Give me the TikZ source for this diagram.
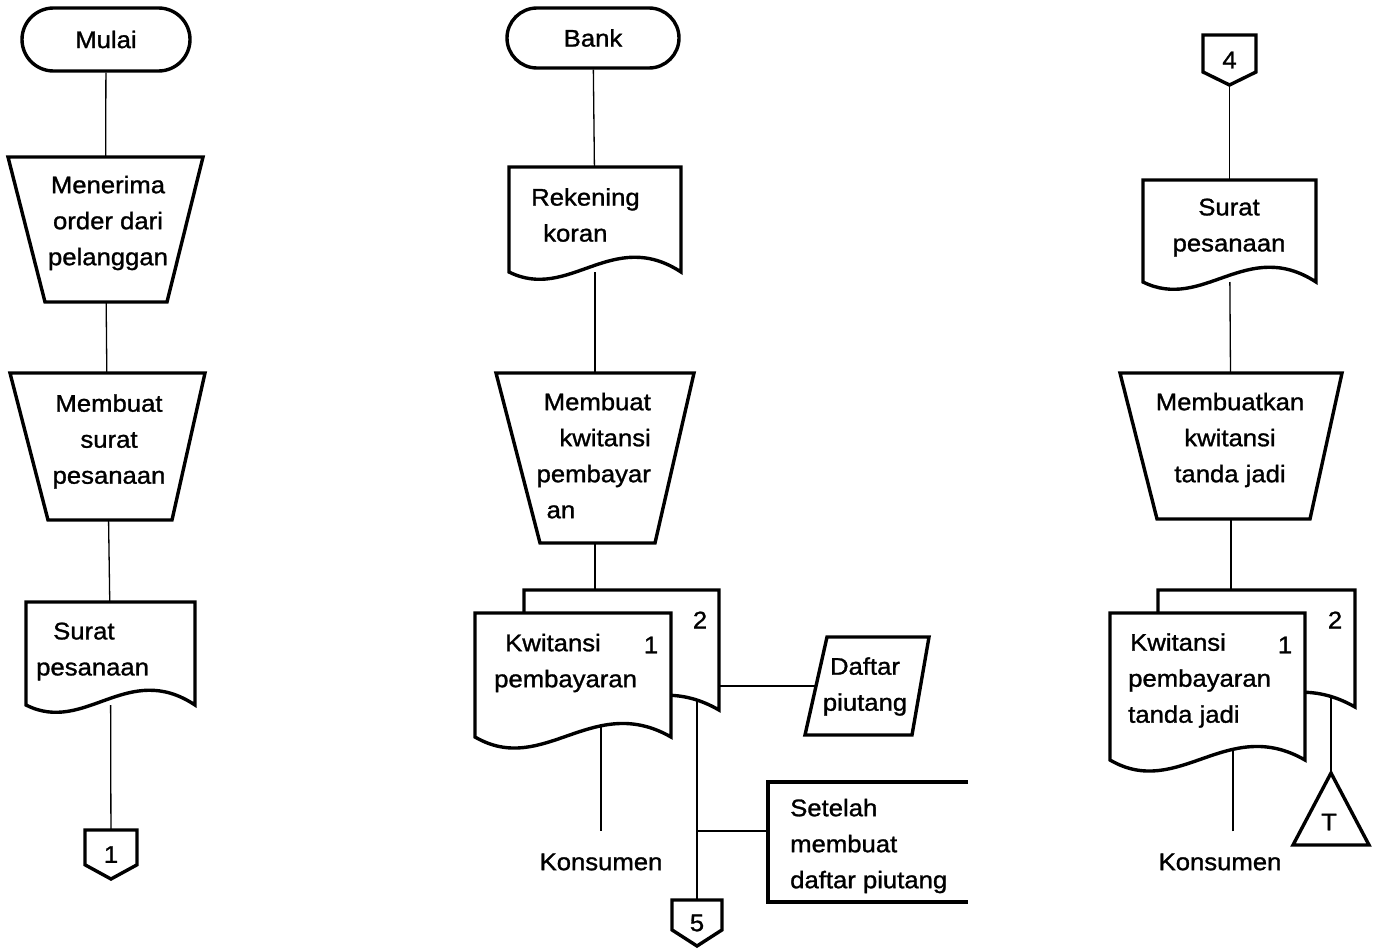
\documentclass[tikz,border=0pt]{standalone}
\usepackage{fontspec}
\setmainfont{Liberation Sans}[FakeStretch=1.07,FakeBold=1.2]
\usetikzlibrary{shapes.misc,calc}
\pgfdeclarelayer{background}
\pgfdeclarelayer{shapes}
\pgfsetlayers{background,shapes,main}

\tikzset{
  outline/.style={draw, line width=3.4pt, line join=miter, fill=white},
  link/.style={line width=1.3pt},
  box/.style={inner sep=0pt, outer sep=0pt},
  txt/.style={font=\fontsize{24}{36}\selectfont, inner sep=0pt},
  term/.style={rounded rectangle, outline, font=\fontsize{24}{36}\selectfont, inner sep=0pt},
}

% document symbol with a wavy lower edge: node, trough depth, crest height
\newcommand{\docoutline}[3]{%
  \begin{pgfonlayer}{shapes}
  \path[outline] let \p1=(#1.north west), \p2=(#1.south east), \n1={\x2-\x1} in
    (\p1) -- (\x1,\y2)
    .. controls ({\x1+0.35*\n1},{\y2-#2pt}) and ({\x1+0.6*\n1},{\y2+#3pt}) .. (\x2,\y2)
    -- (\x2,\y1) -- cycle;
  \end{pgfonlayer}}
% manual operation: node, left inset, right inset
\newcommand{\manop}[3]{%
  \begin{pgfonlayer}{shapes}
  \path[outline] (#1.north west) -- (#1.north east) -- ($(#1.south east)+(-#3,0)$)
    -- ($(#1.south west)+(#2,0)$) -- cycle;
  \end{pgfonlayer}}
% off-page connector: node, fraction of height where the point starts
\newcommand{\offpage}[2]{%
  \begin{pgfonlayer}{shapes}
  \path[outline] (#1.north west) -- (#1.north east) -- ($(#1.north east)!#2!(#1.south east)$)
    -- (#1.south) -- ($(#1.north west)!#2!(#1.south west)$) -- cycle;
  \end{pgfonlayer}}

\begin{document}
\begin{tikzpicture}[x=1pt,y=-1pt]
\useasboundingbox (0,0) rectangle (1380,950);

% ---------- left column ----------
\node[term, minimum width=168pt, minimum height=63pt] (mulai) at (106,39.5) {Mulai};

\node[box, minimum width=195pt, minimum height=145pt] (t1) at (105.5,229.5) {};
\manop{t1}{37}{36}
\node[txt, align=center] (t1x) at (108,223) {Menerima\\order dari\\pelanggan};

\node[box, minimum width=195pt, minimum height=147pt] (t2) at (107.5,446.5) {};
\manop{t2}{38}{33}
\node[txt, align=center] (t2x) at (109,441.5) {Membuat\\surat\\pesanaan};

\node[box, minimum width=169pt, minimum height=103pt] (d1) at (110.5,653.5) {};
\docoutline{d1}{30}{45}
\node[txt, align=left, anchor=west] (d1x) at (36,651.5) {\hspace*{17pt}Surat\\pesanaan};

\node[box, txt, minimum width=52pt, minimum height=49pt] (c1) at (111,854.5) {1};
\offpage{c1}{0.71}

% ---------- middle column ----------
\node[term, minimum width=172pt, minimum height=60pt] (bank) at (593,38) {Bank};

\node[box, minimum width=172pt, minimum height=105pt] (d2) at (595,219.5) {};
\docoutline{d2}{30}{45}
\node[txt, align=left, anchor=west] (d2x) at (531,215) {Rekening\\\hspace*{12pt}koran};

\node[box, minimum width=198pt, minimum height=170pt] (t3) at (595,458) {};
\manop{t3}{44}{39}
\node[txt, align=right, anchor=east] (t3x) at (651,458)
  {Membuat\\kwitansi\\pembayar\\\rlap{\hspace*{10pt}an}\phantom{pembayar}};

\node[box, minimum width=195pt, minimum height=120pt] (back2) at (621.5,650) {};
\docoutline{back2}{30}{45}
\node[box, minimum width=196pt, minimum height=124pt] (front2) at (573,675) {};
\docoutline{front2}{40}{45}
\node[txt] (n2a) at (700,620) {2};
\node[txt] (n1a) at (651,645) {1};
\node[txt, align=left, anchor=west] (front2x) at (494,663) {\hspace*{11pt}Kwitansi\\pembayaran};

\node[txt, inner ysep=22pt] (kons2) at (601,862) {Konsumen};

\node[box, minimum width=124pt, minimum height=98pt] (daftar) at (867,686) {};
\begin{pgfonlayer}{shapes}
\path[outline] ($(daftar.north west)+(22,0)$) -- (daftar.north east)
  -- ($(daftar.south east)+(-17,0)$) -- (daftar.south west) -- cycle;
\end{pgfonlayer}
\node[txt, align=center] (daftarx) at (865,686.5) {Daftar\\piutang};

\node[box, minimum width=200pt, minimum height=120pt] (annot) at (868,842) {};
\draw[line width=3.4pt] (annot.north east) -- (annot.north west) -- (annot.south west) -- (annot.south east);
\node[txt, align=left, anchor=west] (annotx) at (790,846) {Setelah\\membuat\\daftar piutang};

\node[box, txt, minimum width=50pt, minimum height=46pt] (c5) at (697,923) {5};
\offpage{c5}{0.65}

% ---------- right column ----------
\node[box, txt, minimum width=53pt, minimum height=50pt] (c4) at (1229.5,60) {4};
\offpage{c4}{0.74}

\node[box, minimum width=173pt, minimum height=102pt] (d3) at (1229.5,231) {};
\docoutline{d3}{30}{45}
\node[txt, align=center] (d3x) at (1229,227.5) {Surat\\pesanaan};

\node[box, minimum width=222pt, minimum height=146pt] (t4) at (1231,446) {};
\manop{t4}{37}{32}
\node[txt, align=center] (t4x) at (1230,440) {Membuatkan\\kwitansi\\tanda jadi};

\node[box, minimum width=197pt, minimum height=117pt] (back3) at (1256.5,648.5) {};
\docoutline{back3}{30}{45}
\node[box, minimum width=195pt, minimum height=147pt] (front3) at (1207.5,686.5) {};
\docoutline{front3}{40}{45}
\node[txt] (n2b) at (1335,620) {2};
\node[txt] (n1b) at (1285,645) {1};
\node[txt, align=left, anchor=west] (front3x) at (1128,680.5) {\hspace*{2pt}Kwitansi\\pembayaran\\tanda jadi};

\node[txt, inner ysep=22pt] (kons3) at (1220,862) {Konsumen};

\node[box, minimum width=76pt, minimum height=72pt] (tri) at (1331,809) {};
\begin{pgfonlayer}{shapes}
\path[outline] (tri.north) -- (tri.south east) -- (tri.south west) -- cycle;
\end{pgfonlayer}
\node[txt] (trix) at (1329,822) {T};

% ---------- connectors ----------
\begin{pgfonlayer}{background}
\draw[link] (mulai) -- (t1);
\draw[link] (t1) -- (t2);
\draw[link] (t2) -- (d1);
\draw[link] (d1) -- (c1);

\draw[link] (bank) -- (d2);
\draw[link] (d2) -- (t3);
\draw[link] (t3) -- (t3 |- back2.north);
\draw[link] (kons2.north |- front2.center) -- (kons2.north);
\draw[link] (c5.north |- back2.center) -- (c5.north);
\draw[link] (daftar.center -| back2.center) -- (daftar.center);
\draw[link] ($(annot.west)+(0,-11)$) coordinate (branch) -- (branch -| c5.north);

\draw[link] (c4) -- (d3);
\draw[link] (d3) -- (t4);
\draw[link] (t4) -- (t4 |- back3.north);
\draw[link] ($(kons3.north)+(13,0)$) coordinate (k3) -- (k3 |- front3.center);
\draw[link] (tri.north |- back3.center) -- (tri.north);
\end{pgfonlayer}
\end{tikzpicture}
\end{document}
